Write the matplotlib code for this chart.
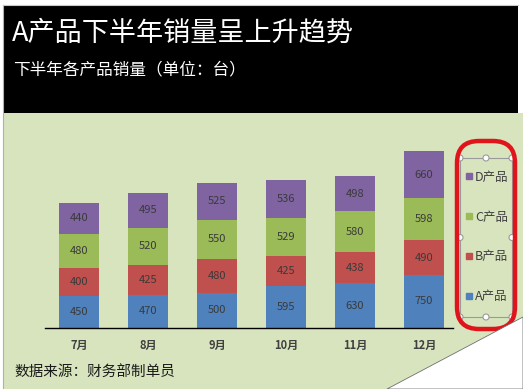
import matplotlib.pyplot as plt
import matplotlib
from matplotlib.patches import Rectangle, FancyBboxPatch, Polygon, Circle
from matplotlib.lines import Line2D
import numpy as np

matplotlib.rcParams['font.family'] = ['Noto Sans CJK SC', 'DejaVu Sans']
matplotlib.rcParams['axes.unicode_minus'] = False

# 数据
months = ['7月', '8月', '9月', '10月', '11月', '12月']
products = ['A产品', 'B产品', 'C产品', 'D产品']
sales_a = [450, 470, 500, 595, 630, 750]
sales_b = [400, 425, 480, 425, 438, 490]
sales_c = [480, 520, 550, 529, 580, 598]
sales_d = [440, 495, 525, 536, 498, 660]
colors = ['#4F81BD', '#C0504D', '#9BBB59', '#8064A2']

W, H = 523, 389
fig = plt.figure(figsize=(W / 100, H / 100), dpi=100)
fig.patch.set_facecolor('white')

# 背景层（像素坐标）
bg = fig.add_axes([0, 0, 1, 1])
bg.set_xlim(0, W)
bg.set_ylim(H, 0)
bg.axis('off')
bg.add_patch(Rectangle((3, 113), W - 3, H - 113, facecolor='#D8E4BD', edgecolor='none'))
bg.add_patch(Rectangle((3, 5), 515, 108, facecolor='black', edgecolor='none'))
bg.plot([3, 3], [5, H], color='#B0B0B0', lw=0.8)
bg.plot([3, 518], [4.5, 4.5], color='#C8C8C8', lw=0.8)

bg.text(12, 33, 'A产品下半年销量呈上升趋势', color='white', fontsize=19.5,
        va='center', ha='left')
bg.text(13, 70, '下半年各产品销量（单位：台）', color='white', fontsize=12,
        va='center', ha='left')
bg.text(14, 372, '数据来源：财务部制单员', color='#1A1A1A', fontsize=10.5,
        va='center', ha='left')

# 图例框与选中手柄
bg.add_patch(Rectangle((460, 158), 52, 159, facecolor='none', edgecolor='#9A9A9A', lw=0.8))
for hx, hy in [(460, 158), (486, 158), (512, 158), (460, 237.5), (512, 237.5),
               (460, 317), (486, 317), (512, 317)]:
    bg.add_patch(Circle((hx, hy), 3, facecolor='white', edgecolor='#9A9A9A', lw=0.8))

# 红色圈
bg.add_patch(FancyBboxPatch((457, 141), 58, 188, boxstyle='round,pad=0,rounding_size=22',
                            facecolor='none', edgecolor='#E0141B', lw=3.2))

# 翻页效果
bg.add_patch(Polygon([(387, H), (W, 317), (W, H)], closed=True,
                     facecolor='white', edgecolor='#707070', lw=0.6))

# 柱状图
ax = fig.add_axes([45 / W, 1 - 328 / H, (453 - 45) / W, 184 / H])
ax.set_facecolor('none')
x = np.arange(len(months))
series = [sales_a, sales_b, sales_c, sales_d]
bottom = np.zeros(len(months))
handles = []
for vals, c, name in zip(series, colors, products):
    ax.bar(x, vals, 0.58, bottom=bottom, color=c, label=name)
    for xi, b, v in zip(x, bottom, vals):
        ax.text(xi, b + v / 2, str(v), ha='center', va='center',
                fontsize=8, color='#3A3A3A')
    bottom = bottom + np.array(vals)
    handles.append(Line2D([], [], marker='s', linestyle='none', markersize=5,
                          markerfacecolor=c, markeredgecolor=c))

ax.set_xlim(-0.493, 5.42)
ax.set_ylim(0, 2600)
ax.set_xticks(x)
ax.set_xticklabels(months, fontsize=8, color='#404040', fontweight='bold')
ax.tick_params(axis='x', length=0, pad=8)
ax.set_yticks([])
for s in ['top', 'right', 'left']:
    ax.spines[s].set_visible(False)
ax.spines['bottom'].set_color('black')
ax.spines['bottom'].set_linewidth(1)

fig.legend(handles[::-1], products[::-1], loc='center',
           bbox_to_anchor=(487 / W, 1 - 237 / H), frameon=False,
           fontsize=9, labelcolor='#404040', labelspacing=2.15,
           handlelength=0.6, handletextpad=0.15, borderpad=0)

fig.savefig('out.png', dpi=100)
